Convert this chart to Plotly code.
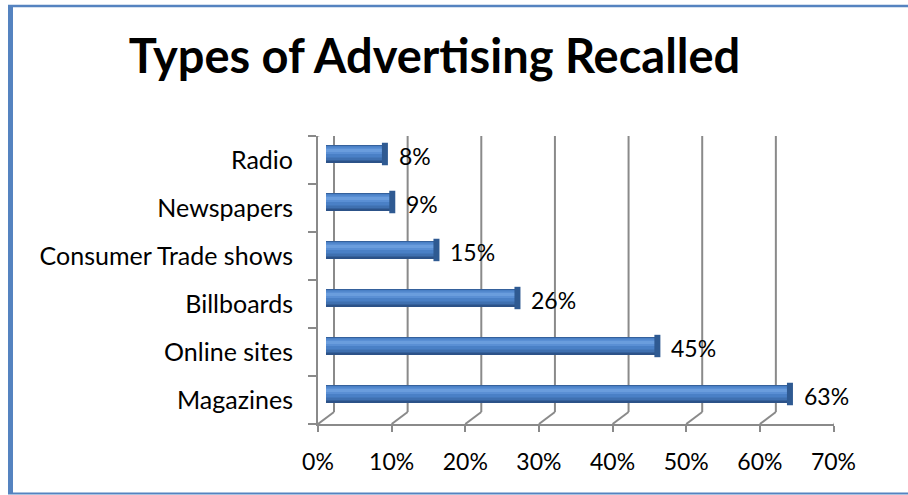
import plotly.graph_objects as go

# Survey results: share of respondents recalling each advertising type
categories = ["Magazines", "Online sites", "Billboards", "Consumer Trade shows", "Newspapers", "Radio"]
recall_pct = [63, 45, 26, 15, 9, 8]
x_ticks = [0, 10, 20, 30, 40, 50, 60, 70]
x_tick_labels = [f"{t}%" for t in x_ticks]

W, H = 908, 495
FONT = "Lato"
GRID = "#8a8a8a"

# front plane of the 3-D box, in pixels
FX0, FX1 = 318.0, 833.5          # 0% .. 70%
FY_BOT, FY_TOP = 424.0, 136.0
DEPTH_X, DEPTH_Y = 16.0, 12.0    # front -> back wall offset (pixels)
px_per_pct = (FX1 - FX0) / 70.0
px_per_cat = (FY_BOT - FY_TOP) / 6.0
dx_back = DEPTH_X / px_per_pct    # data units
dy_back = DEPTH_Y / px_per_cat
dx_mid, dy_mid = dx_back / 2, dy_back / 2

xdom = [FX0 / W, FX1 / W]
ydom = [1 - FY_BOT / H, 1 - FY_TOP / H]

fig = go.Figure()

# cylinder-like bars: stacked bands of the same bar, dark to light
bands = [  # (bottom px, top px, colour) relative to bar centre
    (-9.0, 9.0, "#2c5288"),
    (-6.5, 8.5, "#3f70b0"),
    (-3.5, 8.0, "#4a80c6"),
    (0.0, 6.5, "#5a8fd4"),
    (2.0, 5.0, "#6a9ddd"),
]
for lo, hi, col in bands:
    fig.add_trace(go.Bar(
        x=recall_pct, y=categories, orientation="h",
        xaxis="x2", yaxis="y2",
        width=(hi - lo) / px_per_cat, offset=lo / px_per_cat,
        marker=dict(color=col, line=dict(width=0)),
        hoverinfo="skip", showlegend=False,
    ))

# darker end face of each cylinder
fig.add_trace(go.Scatter(
    x=recall_pct, y=categories, xaxis="x2", yaxis="y2", mode="markers",
    marker=dict(symbol="line-ns", size=16, line=dict(color="#2f5a92", width=6)),
    hoverinfo="skip", showlegend=False,
))

# value labels
for v, c in zip(recall_pct, categories):
    fig.add_annotation(
        x=v, y=c, xref="x2", yref="y2", text=f"{v}%",
        showarrow=False, xanchor="left", yanchor="middle", xshift=12, yshift=-2,
        font=dict(family=FONT, size=23, color="#000000"),
    )

shapes = []
# back-wall gridlines and floor diagonals
for t in x_ticks:
    shapes.append(dict(type="line", xref="x", yref="y", layer="below",
                       x0=t + dx_back, x1=t + dx_back, y0=-0.5 + dy_back, y1=5.5 + dy_back,
                       line=dict(color=GRID, width=2)))
    shapes.append(dict(type="line", xref="x", yref="y", layer="below",
                       x0=t, x1=t + dx_back, y0=-0.5, y1=-0.5 + dy_back,
                       line=dict(color=GRID, width=2)))
# top edge of the side wall
shapes.append(dict(type="line", xref="x", yref="y", layer="below",
                   x0=0, x1=dx_back, y0=5.5, y1=5.5 + dy_back,
                   line=dict(color=GRID, width=2)))

# chart-area border
BLUE = "#5583c0"
shapes.append(dict(type="line", xref="paper", yref="paper",
                   x0=10.5 / W, x1=10.5 / W, y0=1 - 5 / H, y1=1 - 494 / H,
                   line=dict(color=BLUE, width=5)))
shapes.append(dict(type="line", xref="paper", yref="paper",
                   x0=8 / W, x1=1.0, y0=1 - 6 / H, y1=1 - 6 / H,
                   line=dict(color=BLUE, width=2.5)))
shapes.append(dict(type="line", xref="paper", yref="paper",
                   x0=8 / W, x1=1.0, y0=1 - 493.5 / H, y1=1 - 493.5 / H,
                   line=dict(color=BLUE, width=2)))

fig.update_layout(
    width=W, height=H,
    margin=dict(l=0, r=0, t=0, b=0, pad=0, autoexpand=False),
    paper_bgcolor="white", plot_bgcolor="rgba(0,0,0,0)",
    barmode="overlay",
    showlegend=False,
    shapes=shapes,
    title=dict(
        text="Types of Advertising Recalled",
        x=434.5 / W, xanchor="center", y=1 - 57 / H, yanchor="middle",
        xref="paper", yref="paper",
        font=dict(family=FONT, size=47, weight="bold", color="#000000"),
    ),
    # front plane axes (carry the tick labels)
    xaxis=dict(
        domain=xdom, range=[0, 70], tickvals=x_ticks, ticktext=x_tick_labels,
        showgrid=False, zeroline=False, showline=True, linecolor=GRID, linewidth=2,
        ticks="outside", ticklen=6, tickwidth=2, tickcolor=GRID,
        tickfont=dict(family=FONT, size=23, color="#000000"),
        ticklabelstandoff=10, automargin=False, fixedrange=True,
    ),
    yaxis=dict(
        domain=ydom, type="category", categoryorder="array", categoryarray=categories,
        range=[-0.5, 5.5], tickson="boundaries",
        showgrid=False, zeroline=False, showline=True, linecolor=GRID, linewidth=2,
        ticks="outside", ticklen=8, tickwidth=2, tickcolor=GRID,
        tickfont=dict(family=FONT, size=25, color="#000000"),
        ticklabelstandoff=18, automargin=False, fixedrange=True,
    ),
    # mid-depth axes where the bars sit
    xaxis2=dict(
        domain=xdom, overlaying="x", range=[-dx_mid, 70 - dx_mid], visible=False,
        automargin=False, fixedrange=True,
    ),
    yaxis2=dict(
        domain=ydom, overlaying="y", type="category", categoryorder="array",
        categoryarray=categories, range=[-0.5 - dy_mid, 5.5 - dy_mid], visible=False,
        automargin=False, fixedrange=True,
    ),
)

fig.write_html("out.html")
